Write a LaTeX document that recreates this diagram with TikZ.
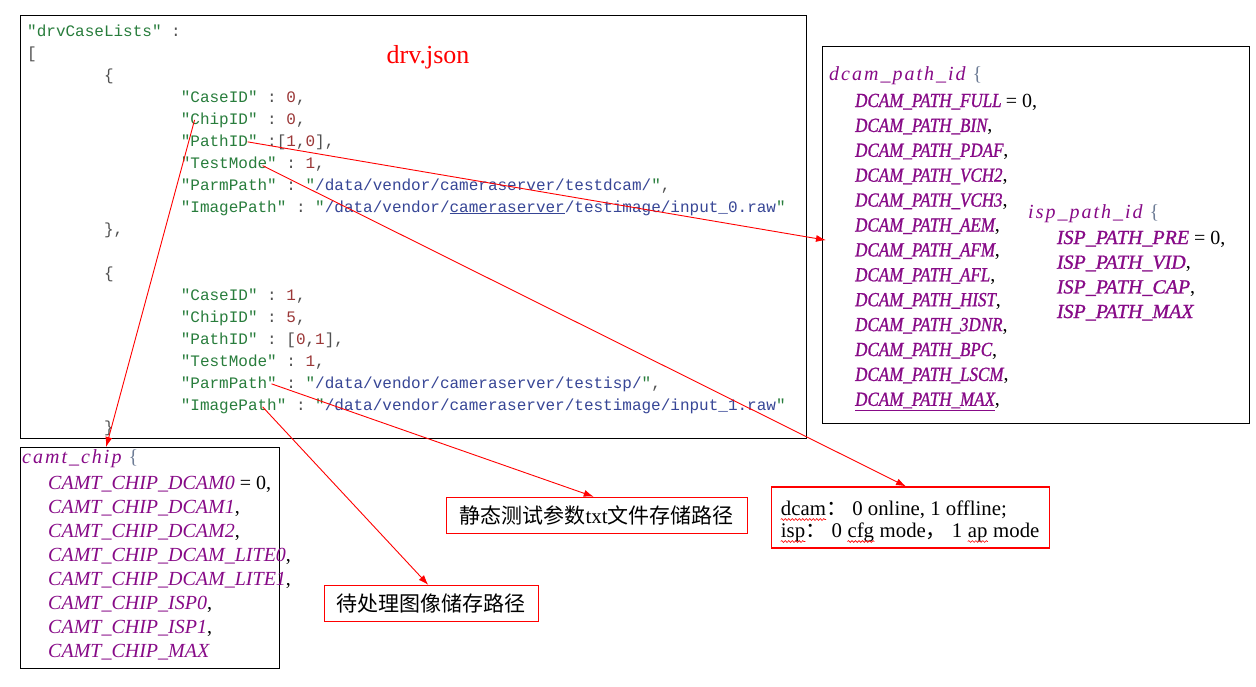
\documentclass[tikz,border=0pt]{standalone}
\usepackage{fontspec}
\setmainfont{Liberation Serif}
\setmonofont{Liberation Mono}
\newfontfamily\cjk{Noto Sans CJK SC}
\newfontfamily\widefont[LetterSpace=10]{Liberation Serif}
\newfontfamily\condfont[FakeStretch=0.85,FakeBold=1]{Liberation Serif}
\newfontfamily\boldfont[FakeBold=1]{Liberation Serif}
\usetikzlibrary{arrows.meta}
\usetikzlibrary{decorations.pathmorphing}

\definecolor{jkey}{RGB}{40,125,60}
\definecolor{jnum}{RGB}{155,55,55}
\definecolor{jstr}{RGB}{55,70,150}
\definecolor{jpunct}{RGB}{80,80,80}
\definecolor{brace}{RGB}{110,125,150}
\definecolor{enumc}{RGB}{135,10,135}

\newcommand{\jkey}[1]{\textcolor{jkey}{"#1"}}
\newcommand{\jnum}[1]{\textcolor{jnum}{#1}}
\newcommand{\jstr}[1]{\textcolor{jkey}{"}\textcolor{jstr}{#1}\textcolor{jkey}{"}}
\newcommand{\plain}[1]{\textcolor{black}{\rmfamily\upshape #1}}
\newcommand{\lbr}{\textcolor{brace}{\rmfamily\upshape\{}}
\newcommand{\fw}[1]{\smash{\cjk #1}}

\tikzset{
  json/.style={anchor=base west, inner sep=0pt, text=jpunct, font=\ttfamily\fontsize{16}{22}\selectfont},
  enum/.style={anchor=base west, inner sep=0pt, text=enumc, font=\condfont\itshape\fontsize{20}{24}\selectfont},
  enumb/.style={enum, font=\boldfont\itshape\fontsize{20}{24}\selectfont},
  enumw/.style={enum, font=\itshape\fontsize{20}{24}\selectfont},
  enumhead/.style={enum, font=\widefont\itshape\fontsize{20}{24}\selectfont},
  word/.style={anchor=base west, inner sep=0pt, text=black, font=\fontsize{20.8}{22}\selectfont},
  frame/.style={draw=black, line width=1.3pt, anchor=north west, inner sep=0pt},
  note/.style={draw=red, line width=1.2pt, text=black},
  wave/.style={draw=red, line width=0.6pt, decorate, decoration={snake, amplitude=0.9pt, segment length=3.5pt}},
  link/.style={draw=red, line width=0.9pt, -{Latex[length=10pt,width=7pt]}}
}

\begin{document}
\begin{tikzpicture}[x=1pt,y=-1pt]
        \fill[white] (0,0) rectangle (1256,686);

        % the drv.json file
        \node[frame, minimum width=786pt, minimum height=423pt] (drv) at (20,15) {};
        \node[text=red, font=\fontsize{26}{26}\selectfont] (title) at (428,57) {drv.json};

        \node[json] (top) at (27,36) {\jkey{drvCaseLists} :};
        \node[json] (open) at (27,58) {[};
        \node[json] (c0) at (103.8,80) {\{};
        \foreach \txt [count=\i] in {
                {\jkey{CaseID} : \jnum{0},},
                {\jkey{ChipID} : \jnum{0},},
                {\jkey{PathID} :[\jnum{1},\jnum{0}],},
                {\jkey{TestMode} : \jnum{1},},
                {\jkey{ParmPath} : \jstr{/data/vendor/cameraserver/testdcam/},},
                {\jkey{ImagePath} : \jstr{/data/vendor/\underline{cameraserver}/testimage/input\_0.raw}}} {
                \node[json] (a\i) at (180.6,80+22*\i) {\txt};
        }
        \node[json] (c1) at (103.8,234) {\},};
        \node[json] (c2) at (103.8,278) {\{};
        \foreach \txt [count=\i] in {
                {\jkey{CaseID} : \jnum{1},},
                {\jkey{ChipID} : \jnum{5},},
                {\jkey{PathID} : [\jnum{0},\jnum{1}],},
                {\jkey{TestMode} : \jnum{1},},
                {\jkey{ParmPath} : \jstr{/data/vendor/cameraserver/testisp/},},
                {\jkey{ImagePath} : \jstr{/data/vendor/cameraserver/testimage/input\_1.raw}}} {
                \node[json] (b\i) at (180.6,278+22*\i) {\txt};
        }
        \node[json] (c3) at (103.8,432) {\}};

        % path ids
        \node[frame, minimum width=427pt, minimum height=377pt] (paths) at (822,46) {};
        \node[enumhead] (dhead) at (829,80) {dcam\_path\_id \lbr};
        \node[enum] (d0) at (855,107) {DCAM\_PATH\_FULL \plain{= 0,}};
        \foreach \p [count=\i] in {BIN,PDAF,VCH2,VCH3,AEM,AFM,AFL,HIST,3DNR,BPC,LSCM} {
                \node[enum] (d\i) at (855,107+24.9*\i) {DCAM\_PATH\_\p\plain{,}};
        }
        \node[enum] (d12) at (855,405.8) {\underline{DCAM\_PATH\_MAX}\plain{,}};

        \node[enumhead] (ihead) at (1028,218) {isp\_path\_id \lbr};
        \node[enumb] (i0) at (1056.7,244) {ISP\_PATH\_PRE \plain{= 0,}};
        \foreach \p [count=\i] in {VID,CAP} {
                \node[enumb] (i\i) at (1056.7,244+24.7*\i) {ISP\_PATH\_\p\plain{,}};
        }
        \node[enumb] (i3) at (1056.7,318) {ISP\_PATH\_MAX};

        % chip ids
        \node[frame, minimum width=259pt, minimum height=221pt] (camt) at (20,447) {};
        \node[enumhead] (chead) at (22,463) {camt\_chip \lbr};
        \node[enumw] (m0) at (48,489) {CAMT\_CHIP\_DCAM0 \plain{= 0,}};
        \foreach \p [count=\i] in {DCAM1,DCAM2,DCAM\_LITE0,DCAM\_LITE1,ISP0,ISP1} {
                \node[enumw] (m\i) at (48,489+24*\i) {CAMT\_CHIP\_\p\plain{,}};
        }
        \node[enumw] (m7) at (48,657) {CAMT\_CHIP\_MAX};

        % notes
        \node[note, minimum width=301pt, minimum height=36pt, font=\cjk\fontsize{21}{21}\selectfont] (parm) at (596.7,515.3) {静态测试参数{\rmfamily txt}文件存储路径};
        \node[note, minimum width=214pt, minimum height=36pt, font=\cjk\fontsize{21}{21}\selectfont] (img) at (431.3,603.5) {待处理图像储存路径};
        \node[note, minimum width=278pt, minimum height=61pt] (mode) at (910.5,517.5) {};

        \node[word] (dcam) at (780.7,515.5) {dcam};
        \node[word] (l1) at (dcam.base east) {\fw{：}\ 0 online, 1 offline;};
        \node[word] (isp) at (780.7,537.5) {isp};
        \node[word] (l2a) at (isp.base east) {\fw{：}\ 0\ \null};
        \node[word] (cfg) at (l2a.base east) {cfg};
        \node[word] (l2b) at (cfg.base east) {\ mode\fw{，}\ 1\ \null};
        \node[word] (ap) at (l2b.base east) {ap};
        \node[word] (l2c) at (ap.base east) {\ mode};
        \foreach \w in {dcam,isp,cfg,ap} {
                \draw[wave] ([yshift=-4pt]\w.base west) -- ([yshift=-4pt]\w.base east);
        }

        % arrows
        \draw[link] ([xshift=14pt]a2.west) -- ([xshift=-44pt]camt.north);
        \draw[link] ([xshift=67pt]a3.west) -- ([xshift=4pt,yshift=-5pt]paths.west);
        \draw[link] ([xshift=82pt,yshift=-2pt]a4.west) -- ([xshift=-4.5pt]mode.north);
        \draw[link] ([xshift=91pt]b5.west) -- ([xshift=-3pt]parm.north);
        \draw[link] ([xshift=82pt,yshift=-1pt]b6.west) -- ([xshift=-3pt]img.north);
\end{tikzpicture}
\end{document}
